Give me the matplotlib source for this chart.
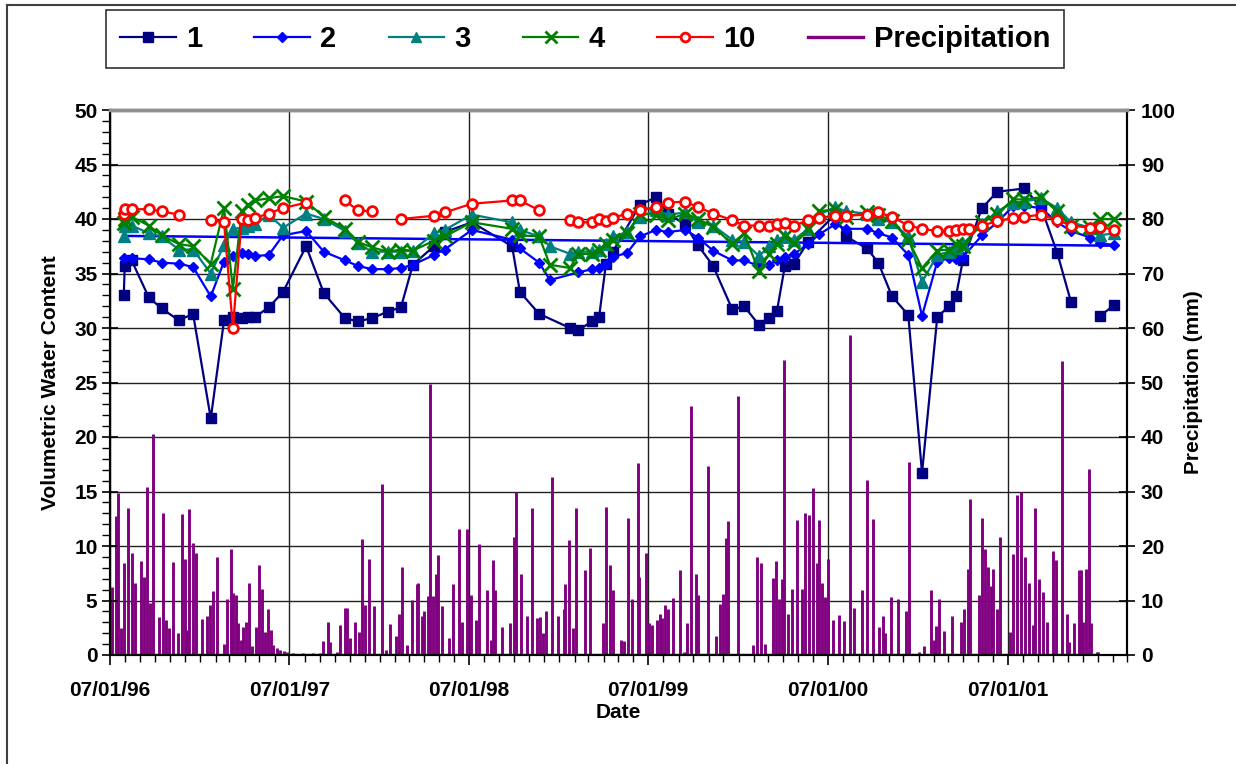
import numpy as np
import pandas as pd
import matplotlib
matplotlib.use("Agg")
import matplotlib.pyplot as plt
import matplotlib.dates as mdates
from matplotlib.lines import Line2D

plt.rcParams["font.family"] = ["Liberation Sans", "DejaVu Sans"]
plt.rcParams["font.weight"] = "bold"

# --------------------------------------------------------------------------- #
#  Data                                                  #
# --------------------------------------------------------------------------- #

# sampling dates; None = not sampled (line joins across), nan = break in line
dates = [
    "1996-07-29", "1996-07-31", "1996-08-14", "1996-09-18", "1996-10-14",
    "1996-11-18", "1996-12-17", "1997-01-22", "1997-02-18", "1997-03-08",
    "1997-03-26", "1997-04-07", "1997-04-22", "1997-05-20", "1997-06-18",
    "1997-08-04", "1997-09-09", "1997-10-22", "1997-11-17", "1997-12-16",
    "1998-01-17", "1998-02-13", "1998-03-09", "1998-04-21", "1998-05-13",
    "1998-07-07", "1998-09-27", "1998-10-13", "1998-11-21", "1998-12-13",
    "1999-01-23", "1999-02-08", "1999-03-09", "1999-03-23", "1999-04-06",
    "1999-04-20", "1999-05-19", "1999-06-14", "1999-07-17", "1999-08-10",
    "1999-09-14", "1999-10-10", "1999-11-10", "1999-12-19", "2000-01-12",
    "2000-02-11", "2000-03-03", "2000-03-19", "2000-04-04", "2000-04-23",
    "2000-05-21", "2000-06-13", "2000-07-15", "2000-08-06", "2000-09-18",
    "2000-10-11", "2000-11-08", "2000-12-11", "2001-01-08", "2001-02-08",
    "2001-03-04", "2001-03-18", "2001-04-01", "2001-04-14", "2001-05-10",
    "2001-06-10", "2001-07-13", "2001-08-04", "2001-09-07", "2001-10-10",
    "2001-11-07", "2001-12-16", "2002-01-05", "2002-02-03",
]

nan = np.nan

vwc_1 = [
    33.0, 35.7, 36.2, 32.8, 31.8, 30.7, 31.3, 21.7, 30.7, 31.0,
    30.9, 31.0, 31.0, 31.9, 33.3, 37.5, 33.2, 30.9, 30.6, 30.9,
    31.5, 31.9, 35.8, 37.5, 38.8, 39.7, 37.5, 33.3, 31.3, None,
    30.0, 29.8, 30.6, 31.0, 35.9, 37.0, None, 41.3, 42.0, 40.5,
    39.5, 37.6, 35.7, 31.7, 32.0, 30.3, 30.9, 31.6, 35.7, 35.9,
    37.9, None, 40.4, 38.4, 37.3, 36.0, 32.9, 31.2, 16.7, 31.0,
    32.0, 32.9, 36.2, None, 41.0, 42.5, None, 42.8, 41.1, 36.9,
    32.4, nan, 31.1, 32.1,
]
vwc_2 = [
    36.4, None, 36.4, 36.3, 36.0, 35.9, 35.6, 32.9, 36.1, 36.6,
    36.9, 36.8, 36.6, 36.7, 38.5, 38.9, 37.0, 36.2, 35.7, 35.4,
    35.4, 35.5, 35.8, 36.7, 37.2, 39.0, 38.1, 37.3, 36.0, 34.4,
    None, 35.1, 35.4, 35.5, 35.9, 36.5, 36.9, 38.4, 39.0, 38.8,
    39.0, 38.3, 37.1, 36.2, 36.2, 35.7, 35.8, 36.2, 36.5, 36.8,
    37.7, 38.6, 39.5, 39.1, 39.1, 38.7, 38.3, 36.7, 31.1, 36.1,
    36.4, 36.3, 36.5, None, 38.5, 39.7, 41.2, 41.2, 41.0, 39.7,
    38.9, 38.3, 37.8, 37.6,
]
vwc_3 = [
    38.4, 39.4, 39.4, 38.7, 38.4, 37.2, 37.2, 35.0, 37.6, 39.1,
    39.2, 39.4, 39.5, 40.4, 39.2, 40.5, 40.0, 38.9, 37.8, 37.0,
    37.0, 37.0, 37.1, 38.7, 39.0, 40.4, 39.7, 39.0, 38.4, 37.5,
    36.8, 37.0, 37.0, 37.2, 37.7, 38.4, 38.8, 40.2, 40.8, 40.4,
    40.6, 39.7, 39.4, 38.1, 37.9, 36.6, 37.5, 38.1, 38.4, 38.1,
    39.1, 40.4, 41.1, 40.7, 40.5, 40.0, 39.7, 38.4, 34.2, 36.7,
    37.0, 37.3, 37.7, None, 39.5, 40.7, 41.5, 41.6, 41.9, 41.0,
    39.7, 39.2, 38.5, 38.7,
]
vwc_4 = [
    39.6, 40.0, 40.2, 39.4, 38.5, 37.7, 37.5, 35.9, 41.0, 33.6,
    40.7, 41.3, 41.7, 41.9, 42.1, 41.6, 40.2, 39.1, 37.9, 37.4,
    37.0, 37.2, 37.1, 38.0, 38.4, 39.7, 39.1, 38.5, 38.4, 35.8,
    35.5, 36.8, 36.8, 37.2, 37.7, 38.1, 38.7, 40.5, 40.4, 39.9,
    40.5, 40.0, 39.3, 37.7, 38.7, 35.2, 36.8, 37.7, 38.4, 37.8,
    39.1, 40.7, 40.9, 40.2, 40.6, 40.4, 39.8, 38.1, 35.5, 37.1,
    37.2, 37.7, 37.5, None, 39.7, 40.5, 41.8, 41.8, 42.0, 40.7,
    39.4, 39.3, 40.0, 40.0,
]
vwc_10 = [
    40.5, 40.9, 40.9, 40.9, 40.7, 40.4, nan, 39.9, 39.7, 30.0,
    40.0, 39.9, 40.1, 40.5, 41.0, 41.5, nan, 41.7, 40.8, 40.7,
    nan, 40.0, None, 40.3, 40.6, 41.4, 41.7, 41.7, 40.8, nan,
    39.9, 39.7, 39.7, 40.0, 39.8, 40.1, 40.5, 40.8, 41.1, 41.5,
    41.6, 41.1, 40.5, 39.9, 39.4, 39.4, 39.4, 39.5, 39.6, 39.4,
    39.9, 40.1, 40.3, 40.3, 40.4, 40.6, 40.2, 39.4, 39.1, 38.9,
    38.9, 39.0, 39.1, 39.1, 39.4, 39.8, 40.1, 40.2, 40.4, 39.9,
    39.4, 39.2, 39.3, 39.0,
]

# straight trend line shown in blue (start / end value)
trend_dates = ["1996-07-29", "2002-02-03"]
trend_vals = [38.45, 37.55]

# daily precipitation spikes: day of record (from 1 July 1996) and mm
precip_day = [
    5, 12, 17, 22, 28, 37, 45, 51, 64, 69, 76, 81, 88, 100, 108, 114, 121,
    129, 139, 146, 153, 156, 161, 168, 175, 188, 198, 203, 209, 217, 232,
    239, 246, 251, 256, 260, 266, 270, 277, 283, 288, 298, 304, 310, 315,
    321, 328, 332, 339, 346, 353, 360, 373, 393, 414, 427, 434, 444, 448,
    462, 468, 478, 482, 488, 498, 507, 513, 519, 526, 537, 554, 561, 570,
    581, 588, 595, 604, 615, 624, 627, 634, 639, 646, 652, 657, 663, 668,
    675, 690, 697, 709, 717, 726, 734, 745, 750, 767, 775, 780, 783, 797,
    813, 821, 826, 836, 849, 859, 868, 875, 880, 887, 900, 912, 923, 926,
    933, 942, 948, 967, 976, 1002, 1009, 1018, 1023, 1039, 1045, 1054,
    1062, 1074, 1077, 1091, 1096, 1102, 1112, 1118, 1123, 1130, 1136, 1146,
    1159, 1167, 1174, 1182, 1193, 1197, 1216, 1233, 1240, 1248, 1253, 1258,
    1277, 1309, 1316, 1324, 1333, 1349, 1355, 1362, 1368, 1372, 1380, 1387,
    1397, 1408, 1413, 1423, 1431, 1438, 1443, 1448, 1454, 1461, 1470, 1484,
    1494, 1506, 1514, 1530, 1541, 1553, 1564, 1572, 1577, 1589, 1604, 1620,
    1625, 1646, 1655, 1670, 1676, 1680, 1686, 1696, 1713, 1731, 1737, 1745,
    1750, 1768, 1775, 1781, 1787, 1792, 1797, 1804, 1811, 1830, 1838, 1845,
    1854, 1861, 1869, 1877, 1882, 1889, 1899, 1906, 1918, 1925, 1937, 1946,
    1952, 1962, 1972, 1976, 1979, 1986, 1991, 1996, 2008, 2011,
]
precip_mm = [
    12.5, 25.5, 29.8, 5.0, 16.8, 27.0, 18.7, 13.3, 17.3, 14.3, 30.9, 9.5,
    40.5, 6.9, 26.0, 6.4, 5.0, 17.1, 4.1, 25.8, 17.7, 4.6, 26.7, 20.5, 18.8,
    6.6, 7.2, 9.2, 11.7, 17.9, 2.0, 10.2, 19.4, 11.4, 11.0, 5.8, 2.8, 5.1,
    6.1, 13.3, 1.7, 5.1, 16.5, 12.2, 4.3, 8.4, 4.5, 1.8, 1.2, 0.9, 0.7, 0.5,
    0.3, 0.3, 0.3, 0.3, 2.6, 6.1, 2.4, 0.6, 5.5, 8.6, 8.7, 3.1, 6.1, 4.3,
    21.2, 9.2, 17.6, 8.9, 31.4, 1.0, 5.6, 3.4, 7.6, 16.2, 1.8, 10.1, 13.0,
    13.3, 7.2, 8.0, 10.8, 49.7, 10.8, 14.9, 18.3, 8.9, 3.1, 13.0, 23.2,
    6.1, 23.2, 11.0, 6.5, 20.4, 12.0, 2.8, 17.4, 12.0, 5.2, 5.9, 21.7, 30.0,
    14.8, 7.2, 27.0, 6.7, 6.9, 4.0, 8.0, 32.6, 7.2, 8.4, 13.0, 21.1, 4.9,
    27.0, 15.6, 19.6, 5.8, 27.2, 16.5, 12.0, 2.8, 2.5, 25.1, 10.2, 35.2,
    14.4, 18.8, 5.8, 5.5, 6.4, 7.6, 6.7, 9.2, 8.4, 10.4, 15.6, 0.6, 5.9,
    45.6, 14.8, 11.0, 34.6, 3.4, 9.3, 11.2, 21.4, 24.5, 47.5, 1.8, 17.9,
    16.8, 2.1, 14.1, 17.2, 10.2, 13.9, 54.1, 7.5, 12.2, 24.8, 12.2, 26.0,
    25.7, 30.6, 16.8, 24.8, 13.3, 10.7, 17.6, 6.4, 7.3, 6.3, 58.8, 8.7,
    12.0, 32.1, 25.0, 5.2, 7.2, 4.1, 10.7, 10.3, 8.1, 35.4, 0.6, 1.7, 12.0,
    2.8, 5.4, 10.2, 4.4, 7.2, 6.1, 8.4, 15.8, 28.6, 11.0, 25.1, 19.4, 16.2,
    12.7, 15.7, 8.4, 21.7, 4.3, 18.5, 29.4, 30.0, 17.9, 13.3, 5.5, 27.0,
    13.9, 11.5, 6.1, 19.1, 17.4, 53.9, 7.6, 2.4, 5.8, 15.6, 15.6, 6.1, 15.7,
    34.1, 5.8, 0.5, 0.5,
]

record_start = pd.Timestamp("1996-07-01")

# --------------------------------------------------------------------------- #
#  Helpers                                                                    #
# --------------------------------------------------------------------------- #

def series_xy(vals):
    xs, ys = [], []
    for d, v in zip(dates, vals):
        if v is None:
            continue
        xs.append(pd.Timestamp(d))
        ys.append(v)
    return xs, ys

# --------------------------------------------------------------------------- #
#  Figure                                                                     #
# --------------------------------------------------------------------------- #

W, H = 1236, 764
fig = plt.figure(figsize=(W / 100, H / 100), dpi=100)
ax2 = fig.add_axes([110 / W, 1 - 655 / H, (1127 - 110) / W, (655 - 110) / H])
ax = ax2.twinx()
ax.yaxis.set_label_position("left")
ax.yaxis.tick_left()
ax2.yaxis.set_label_position("right")
ax2.yaxis.tick_right()

purple = "#800080"
p_dates = [record_start + pd.Timedelta(days=d) for d in precip_day]
ax2.hlines(0, record_start, p_dates[-1], color=purple, lw=2.4, zorder=2)
ax2.vlines(p_dates, 0, precip_mm, color=purple, lw=2.1, zorder=2)

styles = [
    (vwc_1, "1", dict(color="#000080", marker="s", ms=7.5, mfc="#000080", mec="#000080")),
    (vwc_2, "2", dict(color="#0000FF", marker="D", ms=5.5, mfc="#0000FF", mec="#0000FF")),
    (vwc_3, "3", dict(color="#008080", marker="^", ms=8, mfc="#008080", mec="#008080")),
    (vwc_4, "4", dict(color="#008000", marker="x", ms=10, mew=2, mec="#008000")),
    (vwc_10, "10", dict(color="#FF0000", marker="o", ms=7, mew=2, mfc="white", mec="#FF0000")),
]

handles = []
for vals, label, st in styles:
    x, y = series_xy(vals)
    ln, = ax.plot(x, y, lw=1.6, label=label, **st)
    handles.append(ln)
    if label == "2":
        ax.plot(pd.to_datetime(trend_dates), trend_vals, color="#0000FF", lw=1.8)

handles.append(Line2D([], [], color=purple, lw=2.4, label="Precipitation"))

# axes ranges / ticks
xlo, xhi = pd.Timestamp("1996-07-01"), pd.Timestamp("2002-03-01")
ax2.set_xlim(xlo, xhi)
ax.set_ylim(0, 50)
ax2.set_ylim(0, 100)
ax.set_yticks(np.arange(0, 51, 5))
ax.set_yticks(np.arange(0, 51, 1), minor=True)
ax2.set_yticks(np.arange(0, 101, 10))

ax2.xaxis.set_major_locator(mdates.YearLocator(month=7, day=1))
ax2.xaxis.set_minor_locator(mdates.MonthLocator())
ax2.xaxis.set_major_formatter(mdates.DateFormatter("%m/%d/%y"))

ax2.grid(True, which="major", color="#202020", lw=1.0)
ax2.set_axisbelow(True)

ax2.tick_params(axis="x", which="major", direction="out", length=7, width=1.2,
                labelsize=15, pad=12)
ax2.tick_params(axis="x", which="minor", direction="out", length=5, width=1)
ax2.tick_params(axis="y", which="major", direction="inout", length=12, width=1.2,
                labelsize=15, pad=4)
ax.tick_params(axis="y", which="major", direction="inout", length=12, width=1.2,
               labelsize=15, pad=3)
ax.tick_params(axis="y", which="minor", direction="out", length=6, width=1)

for a in (ax, ax2):
    for s in ("left", "right", "bottom"):
        a.spines[s].set_color("black")
        a.spines[s].set_linewidth(1.5)
    a.spines["top"].set_color("#909090")
    a.spines["top"].set_linewidth(2.5)
    for lab in a.get_xticklabels() + a.get_yticklabels():
        lab.set_fontweight("bold")

ax.set_ylabel("Volumetric Water Content", fontsize=15, fontweight="bold", labelpad=10)
ax2.set_ylabel("Precipitation (mm)", fontsize=15, fontweight="bold", labelpad=6)
ax2.set_xlabel("Date", fontsize=15, fontweight="bold", labelpad=2)

leg = fig.legend(handles=handles, loc="center", bbox_to_anchor=(585 / W, 1 - 39 / H),
                 ncol=6, frameon=True, fancybox=False, edgecolor="black",
                 prop=dict(size=21, weight="bold"), handlelength=1.9,
                 handletextpad=0.35, columnspacing=1.8, borderpad=0.5,
                 markerscale=0.9)
leg.get_frame().set_linewidth(1.2)

# outer chart border
fig.add_artist(Line2D([7 / W, 7 / W], [0, 1 - 5 / H], color="#404040", lw=1.5))
fig.add_artist(Line2D([7 / W, 1], [1 - 5 / H, 1 - 5 / H], color="#404040", lw=1.5))

fig.savefig("out.png", dpi=100)
